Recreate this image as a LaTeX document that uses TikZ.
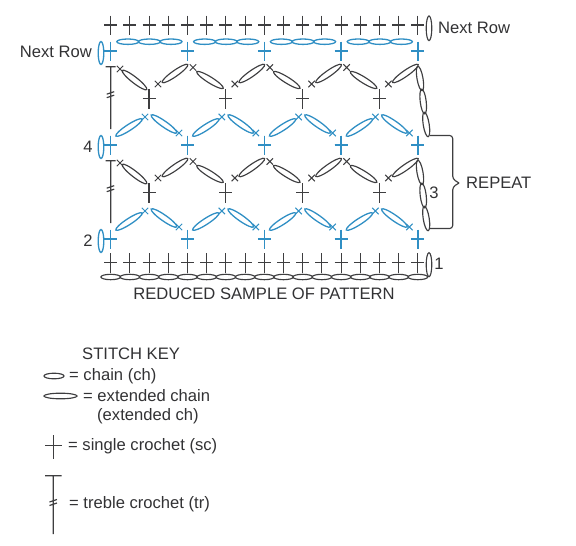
\documentclass[tikz,border=0pt]{standalone}
\usepackage{fontspec}
\setmainfont{Liberation Sans}
\usepackage{xcolor}
\usetikzlibrary{calc}
\definecolor{ink}{RGB}{62,62,64}
\definecolor{rowblue}{RGB}{48,143,196}
\definecolor{txtgray}{RGB}{50,50,52}

\begin{document}
\begin{tikzpicture}[
    x=1pt,y=-1pt,
    font=\fontsize{16.6}{18}\selectfont,
    lab/.style={text=txtgray,inner sep=0pt},
    stitch/.style={draw=ink,line width=1.15pt},
    bluest/.style={draw=rowblue,line width=1.3pt},
    sc/.pic={\draw[pic actions] (-6.5,0) -- (6.5,0) (0,-9.5) -- (0,10);},
    xmk/.pic={\draw[pic actions,line width=1pt] (-3.2,-3.2) -- (3.2,3.2) (-3.2,3.2) -- (3.2,-3.2);},
    ch/.pic={\draw[pic actions] (0,0) ellipse (11 and 2.7);},
    extch/.pic={\draw[pic actions] (0,0) ellipse (15.6 and 3);},
    tr/.pic={\draw[pic actions] (-5,0) -- (5,0) (0,0) -- (0,62.5)
        (-4,27.5) -- (3.5,25) (-4,31) -- (3.5,28.5);}
]
\useasboundingbox (0,0) rectangle (576,546);
\def\rowstep{76.8}
\def\colstep{19.2}
% foundation chain, and the sc rows at top and bottom
\foreach \i in {0,...,16} {
    \pic[stitch] at ({110.7+\i*\colstep},25) {sc};
    \pic[stitch] at ({110.7+\i*\colstep},262.5) {sc};
    \draw[stitch] ({110.7+\i*\colstep},277) ellipse (9.8 and 2.7);
}
\draw[stitch] (429,28.3) ellipse (2.8 and 12.3);
\draw[stitch] (429,264.7) ellipse (2.8 and 12);
% top chain groups
\foreach \i in {0,...,3}
    \foreach \j in {0,1,2}
        \pic[bluest] at ({127.8+\i*\rowstep+\j*21.6},41.7) {ch};
% two repeats of the pattern
\foreach \d in {0,94} {
    \begin{scope}[yshift=-\d pt]
    \foreach \i in {0,...,4} {
        \pic[bluest] at ({110.7+\i*\rowstep},51) {sc};
        \pic[bluest] at ({110.7+\i*\rowstep},145) {sc};
    }
    \pic[stitch] at (110.7,66.7) {tr};
    \foreach \i in {0,...,3} {
        \begin{scope}[xshift=\i*\rowstep pt]
        \pic[stitch] at (149,98.5) {sc};
        % black row
        \pic[stitch,rotate=35] at (175,73.5) {extch};
        \pic[stitch] at (158,84) {xmk};
        \ifnum\i=0
            \pic[stitch,rotate=-38] at (134.5,80) {extch};
            \pic[stitch] at (120,69) {xmk};
        \else
            \pic[stitch,rotate=-32] at (133.2,80) {extch};
            \pic[stitch] at (116.2,67.5) {xmk};
        \fi
        % blue row
        \pic[bluest,rotate=33] at (129,127.5) {extch};
        \pic[bluest] at (145,117) {xmk};
        \pic[bluest,rotate=-35] at (164,124) {extch};
        \pic[bluest] at (179,133) {xmk};
        \end{scope}
    }
    % turning chains
    \draw[stitch,rotate around={10:(420,78.5)}] (420,78.5) ellipse (3 and 12.4);
    \draw[stitch,rotate around={7:(423.2,101.5)}] (423.2,101.5) ellipse (3 and 12.4);
    \draw[stitch,rotate around={9:(426.2,124.5)}] (426.2,124.5) ellipse (3 and 12.4);
    \end{scope}
}
% bracket
\coordinate (bracetop) at (430,135.5);
\coordinate (bracebot) at (430,228.5);
\coordinate (bracetip) at (459,183);
\draw[stitch,rounded corners=3pt] (bracetop) -- (452.7,135.5) -- (452.7,179) -- (bracetip);
\draw[stitch,rounded corners=3pt] (bracebot) -- (452.7,228.5) -- (452.7,187) -- (bracetip);
% labels on the chart
\node[lab,anchor=east] (nextleft) at (92,52) {Next Row};
\node[lab,anchor=west] (nextright) at (438,28) {Next Row};
\node[lab] (rownum4) at (88,147) {4};
\node[lab] (rownum3) at (434,192.5) {3};
\node[lab] (rownum2) at (88,241) {2};
\node[lab] (rownum1) at (439,264) {1};
\node[lab,anchor=west] (repeat) at (466,183) {REPEAT};
\node[lab] (caption) at (264,294) {REDUCED SAMPLE OF PATTERN};
% stitch key
\node[lab,anchor=west] (keytitle) at (82,354) {STITCH KEY};
\draw[stitch] (54,376) ellipse (10 and 2.8);
\node[lab,anchor=west] (keych) at (69,376) {= chain (ch)};
\draw[stitch] (60.5,396) ellipse (16.5 and 2.8);
\node[lab,anchor=west] (keyext) at (83,396) {= extended chain};
\node[lab,anchor=west] (keyext2) at (97,416) {(extended ch)};
\draw[stitch] (45,445.7) -- (61.7,445.7) (53.3,435) -- (53.3,459);
\node[lab,anchor=west] (keysc) at (68,446) {= single crochet (sc)};
\draw[stitch] (45,475.7) -- (61.7,475.7) (53.3,475.7) -- (53.3,534)
    (49.5,502) -- (57,499.5) (49.5,505.5) -- (57,503);
\node[lab,anchor=west] (keytr) at (69,504) {= treble crochet (tr)};
% row-end chains
\foreach \y in {53,147,241}
    \draw[bluest] (101,\y) ellipse (2.8 and 11.5);
\end{tikzpicture}
\end{document}
